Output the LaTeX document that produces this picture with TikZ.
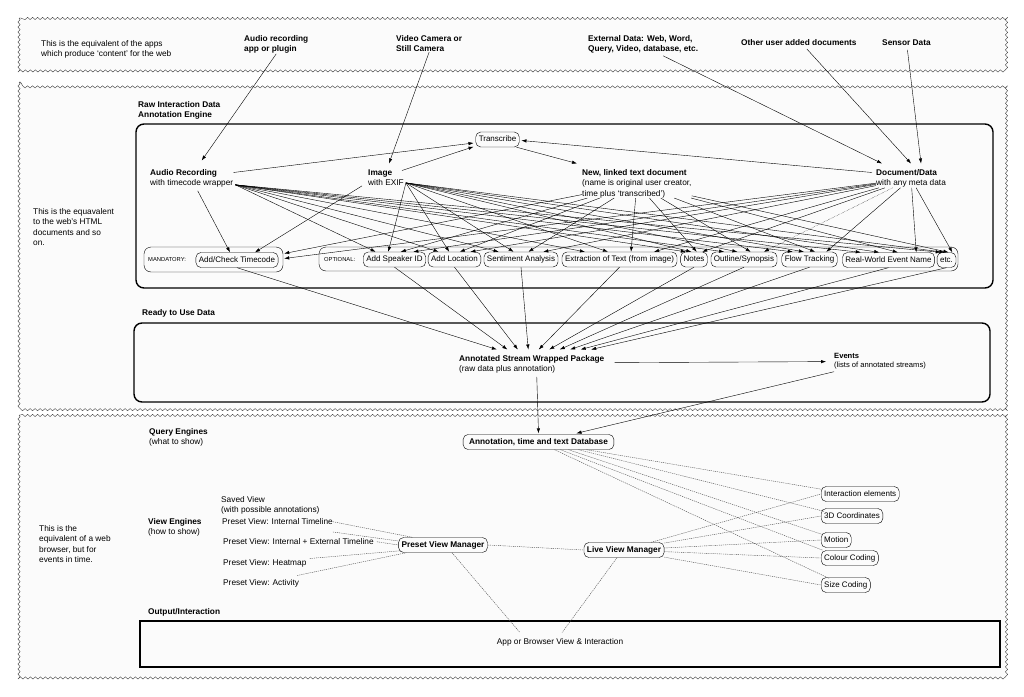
\documentclass[tikz,border=0pt]{standalone}
\usepackage{fontspec}
\setmainfont{Liberation Sans}
\usetikzlibrary{arrows.meta,decorations.pathmorphing,calc}
\begin{document}
\begin{tikzpicture}[x=1pt,y=-1pt,
  every node/.style={font=\fontsize{8.3}{10.2}\selectfont},
  txt/.style={inner sep=0pt, align=left, anchor=north west},
  bf/.style={font=\fontsize{8.3}{10.2}\selectfont\bfseries},
  box/.style={draw, rounded corners=5pt, inner xsep=3pt, inner ysep=0pt, minimum height=15pt, text height=6pt, text depth=1.8pt, font=\fontsize{8}{10}\selectfont},
  bbox/.style={box, font=\fontsize{8.3}{10}\selectfont\bfseries},
  grp/.style={draw, rounded corners=7pt, line width=0.4pt},
  small/.style={inner sep=0pt, anchor=west, font=\fontsize{5.8}{7}\selectfont},
  band/.style={draw=black!75, fill=gray!3, decorate, decoration={snake, amplitude=1.1pt, segment length=5pt}, line width=0.4pt},
  engine/.style={draw, line width=1.4pt, rounded corners=8pt},
  arr/.style={-{Latex[length=5pt,width=3.4pt]}, line width=0.4pt},
  dl/.style={black!70, dash pattern=on 1.2pt off 0.9pt, line width=0.4pt},
]
\useasboundingbox (0,0) rectangle (1024,696);
\fill[white] (0,0) rectangle (1024,696);

% bands
\path[band] (19,18) rectangle (1005,72);
\path[band] (19,82) rectangle (1007,407);
\path[band] (19,415) rectangle (1007,678);

% ---------- top band ----------
\node[txt] (topnote) at (41,40.5) {This is the equivalent of the apps\\which produce `content' for the web};
\node[txt,bf] (sAud) at (244,35.5) {Audio recording\\app or plugin};
\node[txt,bf] (sVid) at (396,35.5) {Video Camera or\\Still Camera};
\node[txt,bf] (sExt) at (588,35.5) {External Data: Web, Word,\\Query, Video, database, etc.};
\node[txt,bf] (sOth) at (741,39.5) {Other user added documents};
\node[txt,bf] (sSen) at (882,39.5) {Sensor Data};

% ---------- middle band ----------
\node[txt] (midnote) at (33,208.5) {This is the equavalent\\to the web's HTML\\documents and so\\on.};
\node[txt,bf] (rawt) at (138,101.5) {Raw Interaction Data\\Annotation Engine};
\node[engine, minimum width=857pt, minimum height=164pt] (raw) at (564.5,206) {};

\node[box] (trans) at (497.5,139.5) {Transcribe};
\node[txt] (aud) at (150,169.5) {\textbf{Audio Recording}\\with timecode wrapper};
\node[txt] (img) at (368,169.5) {\textbf{Image}\\with EXIF};
\node[txt] (new) at (582,169.5) {\textbf{New, linked text document}\\(name is original user creator,\\time plus `transcribed')};
\node[txt] (doc) at (876,169.5) {\textbf{Document/Data}\\with any meta data};

\node[grp, minimum width=139pt, minimum height=25pt] (mand) at (213.5,259.5) {};
\node[small] (mandl) at (148,259.5) {MANDATORY:};
\node[box] (tc) at (237,260) {Add/Check Timecode};

\node[grp, minimum width=639pt, minimum height=24pt] (opt) at (638.5,259) {};
\node[small] (optl) at (324,259.5) {OPTIONAL:};
\node[box] (spk) at (394.5,259.5) {Add Speaker ID};
\node[box] (loc) at (454.5,259.5) {Add Location};
\node[box] (sent) at (521,259.5) {Sentiment Analysis};
\node[box] (ext) at (619.5,259.5) {Extraction of Text (from image)};
\node[box] (notes) at (694,259.5) {Notes};
\node[box] (outl) at (744,259.5) {Outline/Synopsis};
\node[box] (flow) at (809.5,259.5) {Flow Tracking};
\node[box] (rwe) at (888.5,260) {Real-World Event Name};
\node[box] (etcb) at (946.5,260) {etc.};

% inputs from top band
\draw[arr] (sAud.south) -- ($(aud.north)+(10,-9)$);
\draw[arr] (sVid.south) -- ($(img.north)+(3,-6)$);
\draw[arr] ($(sExt.south)+(20,2)$) -- ($(doc.north)+(-29,-6)$);
\draw[arr] ($(sOth.south)+(8,3)$) -- ($(doc.north)+(0,-6)$);
\draw[arr] ($(sSen.south)+(1,4)$) -- ($(doc.north)+(10,-6)$);

% transcribe links
\draw[arr] ($(aud.north east)+(0,3)$) -- ($(trans.west)+(-2,3.5)$);
\draw[arr] ($(img.north east)+(-2,1)$) -- ($(trans.south west)+(-2,-0.5)$);
\draw[arr] ($(trans.south east)+(-3,0)$) -- ($(new.north west)+(-5,-6)$);
\draw[arr] ($(doc.north west)+(-4,3)$) -- ($(trans.east)+(2,1)$);

% mandatory
\draw[arr] ($(aud.south)+(6,3)$) -- ($(tc.north)+(-7,0)$);
\draw[arr] ($(img.south west)+(-6,0)$) -- ($(tc.north)+(18,0)$);
\draw[arr] (new) -- ($(mand.east)+(1,-6)$);
\draw[arr] (doc) -- ($(mand.east)+(1,-1)$);

% fans to optional annotations
\foreach \t in {spk,loc,sent,ext,notes,outl,flow,rwe,etcb} {
  \draw[arr] ($(aud.south east)+(2,-3)$) -- ($(\t.north west)!0.2!(\t.north east)$);
  \draw[arr] ($(img.south east)+(2,-3)$) -- ($(\t.north west)!0.4!(\t.north east)$);
  \draw[arr] (new) -- ($(\t.north west)!0.6!(\t.north east)$);
}
\foreach \t in {spk,loc,sent,ext,notes,flow,rwe,etcb} {
  \draw[arr] (doc) -- ($(\t.north west)!0.8!(\t.north east)$);
}
\draw[arr, densely dotted] (doc) -- ($(outl.north west)!0.8!(outl.north east)$);

% ready to use data
\node[txt,bf] (readyt) at (142,309.5) {Ready to Use Data};
\node[engine, minimum width=856pt, minimum height=79pt] (ready) at (562,362.5) {};
\node[txt] (ann) at (459,355.5) {\textbf{Annotated Stream Wrapped Package}\\(raw data plus annotation)};
\node[txt, font=\fontsize{7.6}{9}\selectfont] (events) at (834,353.5) {\textbf{Events}\\(lists of annotated streams)};

\foreach \t [count=\i from 0] in {tc,spk,loc,sent,ext,notes,outl,flow,rwe,etcb} {
  \pgfmathsetmacro\f{0.26+0.072*\i}
  \draw[arr] (\t.south) -- ($(ann.north west)!\f!(ann.north east)+(0,-6)$);
}
\draw[arr] ($(ann.east)+(10,-2)$) -- ($(events.west)+(-8,0)$);

% ---------- lower band ----------
\node[txt] (qe) at (149,428.5) {\textbf{Query Engines}\\(what to show)};
\node[bbox, inner xsep=6pt] (db) at (538.5,442) {Annotation, time and text Database};
\draw[arr] ($(ann.south)+(5,3)$) -- ($(db.north)+(0,-1)$);
\draw[arr] ($(events.south west)+(0,2)$) -- ($(db.north)+(38,-1)$);

\node[txt] (lownote) at (39,525.5) {This is the\\equivalent of a web\\browser, but for\\events in time.};
\node[txt] (ve) at (148,518.5) {\textbf{View Engines}\\(how to show)};
\node[txt] (sv) at (221,496.5) {Saved View\\(with possible annotations)};
\node[txt] (pit) at (222,518.5) {Preset View: Internal Timeline};
\node[txt] (pie) at (223,538.5) {Preset View: Internal + External Timeline};
\node[txt] (phm) at (223,559.5) {Preset View: Heatmap};
\node[txt] (pac) at (223,579.5) {Preset View: Activity};

\node[bbox] (pvm) at (443,545) {Preset View Manager};
\node[bbox] (lvm) at (624,550) {Live View Manager};

\node[box, anchor=west] (ie) at (821,494) {Interaction elements};
\node[box, anchor=west] (c3d) at (821,516) {3D Coordinates};
\node[box, anchor=west] (mot) at (821,540) {Motion};
\node[box, anchor=west] (cc) at (821,558) {Colour Coding};
\node[box, anchor=west] (sc) at (821,585) {Size Coding};

\node[txt,bf] (oit) at (148,608.5) {Output/Interaction};
\node[draw, line width=1.5pt, minimum width=860pt, minimum height=46pt] (out) at (570,644) {};
\node (outt) at (560,642) {App or Browser View \& Interaction};

% dashed connectors
\draw[dl] ($(db.south)+(48,0)$) -- ($(ie.north west)+(1,3)$);
\draw[dl] ($(db.south)+(40,0)$) -- ($(c3d.north west)+(3,3)$);
\draw[dl] ($(db.south)+(30,0)$) -- ($(mot.north west)+(1,2)$);
\draw[dl] ($(db.south)+(22,0)$) -- ($(cc.north west)+(2,0)$);
\draw[dl] ($(db.south)+(16,0)$) -- ($(sc.north west)+(8,1)$);
\foreach \t in {ie,c3d,mot,cc,sc}
  \draw[dl] (lvm) -- (\t.west);
\draw[dl] (pvm.east) -- (lvm.west);
\draw[dl] (pit.east) -- ($(pvm.north west)+(14,0)$);
\draw[dl] ($(pit.south east)+(0,7)$) -- ($(pvm.west)+(0,-4)$);
\draw[dl] ($(pie.east)+(3,0)$) -- (pvm.west);
\draw[dl] ($(phm.north east)+(3,-1)$) -- ($(pvm.south west)+(3,-2)$);
\draw[dl] ($(pac.north east)+(-2,-4)$) -- ($(pvm.south west)+(8,0)$);
\draw[dl] ($(pvm.south)+(9,0)$) -- ($(outt.north)+(-40,-2)$);
\draw[dl] ($(lvm.south)+(-7,0)$) -- ($(outt.north)+(2,-2)$);
\end{tikzpicture}
\end{document}
